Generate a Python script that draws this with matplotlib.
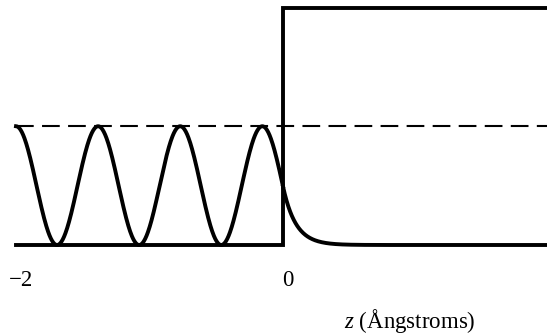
import numpy as np
import matplotlib
matplotlib.use("Agg")
import matplotlib.pyplot as plt

plt.rcParams['font.family'] = ['Liberation Serif', 'DejaVu Serif']
plt.rcParams['mathtext.fontset'] = 'custom'
plt.rcParams['mathtext.rm'] = 'Liberation Serif'
plt.rcParams['mathtext.it'] = 'Liberation Serif:italic'

# potential step (energy units, top of barrier = 2)
step_z = [-2.0, 0.0, 0.0, 2.0]
step_v = [0.0, 0.0, 2.0, 2.0]

# energy of the incident electron (dashed)
energy = 1.0

# standing wave on the left, decaying tail on the right
peak_z = [-2.0, -1.388, -0.776, -0.155]
decay_rate = 10.5     # 2*kappa, per Angstrom

tick_z = [-2, 0, 2]
tick_labels = ['\u22122', '0', '2']

period = (peak_z[-1] - peak_z[0]) / (len(peak_z) - 1)
k = np.pi / period

z_left = np.linspace(-2, 0, 600)
rho_left = np.cos(k * (z_left - peak_z[-1])) ** 2
rho0 = np.cos(k * (0 - peak_z[-1])) ** 2
z_right = np.linspace(0, 2, 600)
rho_right = rho0 * np.exp(-decay_rate * z_right)

fig = plt.figure(figsize=(5.47, 3.35), dpi=100)
ax = fig.add_axes([16 / 547, (335 - 245) / 335, 534 / 547, 237.5 / 335])
ax.set_xlim(-2, 2)
ax.set_ylim(0, 2)
ax.axis('off')

ax.plot([-2, 2], [energy, energy], color='black', lw=1.5,
        dashes=(8.5, 4), clip_on=False)
ax.plot(step_z, step_v, color='black', lw=2.8, clip_on=False,
        solid_joinstyle='miter')
ax.plot(z_left, rho_left, color='black', lw=2.8, clip_on=False)
ax.plot(z_right, rho_right, color='black', lw=2.8, clip_on=False)

for z, lab in zip(tick_z, tick_labels):
    ax.annotate(lab, xy=(z, 0), xytext=(5, -36), textcoords='offset pixels',
                ha='center', va='center', fontsize=16.5, annotation_clip=False)

fig.text(410 / 547, 1 - 321 / 335, r'$z$ (Ångstroms)', ha='center',
         va='center', fontsize=16.5)

fig.savefig('out.png', dpi=100)
